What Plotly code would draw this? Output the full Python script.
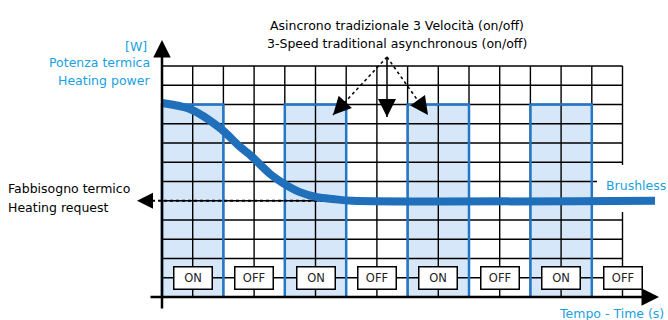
import plotly.graph_objects as go

# ---------------- data (chart units: grid columns / grid rows) ----------------
n_cols = 15                     # time grid columns
n_rows = 12                     # power grid rows
on_intervals = [(0, 2), (4, 6), (8, 10), (12, 14)]   # 3-speed motor ON periods
on_power = 10                   # power level of ON periods
state_t = [1, 3, 5, 7, 9, 11, 13, 15]
state_labels = ["ON", "OFF", "ON", "OFF", "ON", "OFF", "ON", "OFF"]
state_row = 1
brushless_t = [0, 0.91, 1.89, 2.54, 2.87, 3.52, 3.94, 4.49, 5.05, 5.57, 6.2, 16.06]
brushless_p = [10.08, 9.77, 8.78, 7.8, 7.38, 6.39, 5.92, 5.45, 5.19, 5.09, 5.0, 5.0]
heating_request = 5.0

# ---------------- layout helpers ----------------
W, H = 668, 320
X0PX, DXPX = 162, 30.7
Y0PX, DYPX = 297, 19.25
def ux(p): return (p - X0PX) / DXPX
def uy(p): return (Y0PX - p) / DYPX

BLUE_FILL = "#d5e7f8"
BLUE_EDGE = "#2477c6"
BLUE_LINE = "#1f6fbb"
BLUE_TEXT = "#1a9fe0"
FONT = "DejaVu Sans"
FS = 12.5

fig = go.Figure()
shapes = []
# band fills
for a, b in on_intervals:
    shapes.append(dict(type="rect", xref="x", yref="y", x0=a, x1=b, y0=0, y1=on_power,
                       fillcolor=BLUE_FILL, line=dict(width=0), layer="below"))
# grid
for i in range(n_cols + 1):
    shapes.append(dict(type="line", xref="x", yref="y", x0=i, x1=i, y0=0, y1=n_rows,
                       line=dict(color="black", width=1.4), layer="below"))
for j in range(n_rows + 1):
    shapes.append(dict(type="line", xref="x", yref="y", x0=0, x1=n_cols, y0=j, y1=j,
                       line=dict(color="black", width=1.4), layer="below"))
# band borders
for a, b in on_intervals:
    shapes.append(dict(type="path", xref="x", yref="y",
                       path=f"M {a},0 L {a},{on_power} L {b},{on_power} L {b},0",
                       line=dict(color=BLUE_EDGE, width=2.5), layer="below"))
# white area behind Brushless label
shapes.append(dict(type="rect", xref="x", yref="y", x0=ux(597), x1=ux(668), y0=uy(212), y1=uy(165),
                   fillcolor="white", line=dict(width=0), layer="below"))

# heating request dashed line
fig.add_trace(go.Scatter(x=[ux(146), 5.6], y=[heating_request, heating_request], mode="lines",
                         line=dict(color="black", width=2, dash="dot"), hoverinfo="skip"))
# brushless curve
fig.add_trace(go.Scatter(x=brushless_t, y=brushless_p, mode="lines",
                         line=dict(color=BLUE_LINE, width=8, shape="spline", smoothing=0.8),
                         hoverinfo="skip"))

# top pointer arrows
apex = (ux(387), uy(57))
targets = [(ux(333), uy(115)), (ux(387), uy(117)), (ux(428), uy(115))]
dashes = ["dot", "solid", "dot"]
ann = []
for (tx, ty), d in zip(targets, dashes):
    fig.add_trace(go.Scatter(x=[apex[0], tx], y=[apex[1], ty], mode="lines",
                             line=dict(color="black", width=1.5, dash=d), hoverinfo="skip"))
    ann.append(dict(x=tx, y=ty, ax=tx + 0.25 * (apex[0] - tx), ay=ty + 0.25 * (apex[1] - ty),
                    xref="x", yref="y", axref="x", ayref="y", text="", showarrow=True,
                    arrowhead=2, arrowsize=2.0, arrowwidth=1.8, arrowcolor="black"))

# axes arrows
ann.append(dict(x=0, y=uy(40), ax=0, ay=uy(310), xref="x", yref="y", axref="x", ayref="y",
                text="", showarrow=True, arrowhead=2, arrowsize=1.4, arrowwidth=2.5, arrowcolor="black"))
ann.append(dict(x=ux(659), y=0, ax=ux(149), ay=0, xref="x", yref="y", axref="x", ayref="y",
                text="", showarrow=True, arrowhead=2, arrowsize=1.4, arrowwidth=2.5, arrowcolor="black"))
ann.append(dict(x=ux(137), y=heating_request, ax=ux(152), ay=heating_request, xref="x", yref="y",
                axref="x", ayref="y", text="", showarrow=True, arrowhead=2, arrowsize=1.6,
                arrowwidth=2, arrowcolor="black"))

# ON/OFF boxes
for t, lab in zip(state_t, state_labels):
    ann.append(dict(x=t, y=state_row, xref="x", yref="y", text=lab, showarrow=False,
                    font=dict(family=FONT, size=11.5, color="#222"), bgcolor="white",
                    bordercolor="black", borderwidth=1.5, borderpad=1, width=35, height=19))

def txt(s, xp, yp, anchor="left", color="black", size=FS):
    ann.append(dict(x=ux(xp), y=uy(yp), xref="x", yref="y", text=s, showarrow=False,
                    xanchor=anchor, yanchor="middle", font=dict(family=FONT, size=size, color=color)))

txt("Asincrono tradizionale 3 Velocità (on/off)", 397, 25, "center")
txt("3-Speed traditional asynchronous (on/off)", 397, 43, "center")
txt("[W]", 149, 46, "right", BLUE_TEXT)
txt("Potenza termica", 152, 62, "right", BLUE_TEXT)
txt("Heating power", 152, 80, "right", BLUE_TEXT)
txt("Fabbisogno termico", 6, 188, "left")
txt("Heating request", 6, 207, "left")
txt("Brushless", 604, 185, "left", BLUE_TEXT)
txt("Tempo - Time (s)", 666, 313, "right", BLUE_TEXT)

fig.update_layout(
    width=W, height=H, margin=dict(l=0, r=0, t=0, b=0),
    paper_bgcolor="white", plot_bgcolor="white", showlegend=False,
    xaxis=dict(range=[ux(0), ux(W)], visible=False, fixedrange=True),
    yaxis=dict(range=[uy(H), uy(0)], visible=False, fixedrange=True),
    shapes=shapes, annotations=ann,
)
fig.write_html("out.html", config={"displayModeBar": False},
               post_script="document.body.style.margin='0';document.body.style.overflow='hidden';")
